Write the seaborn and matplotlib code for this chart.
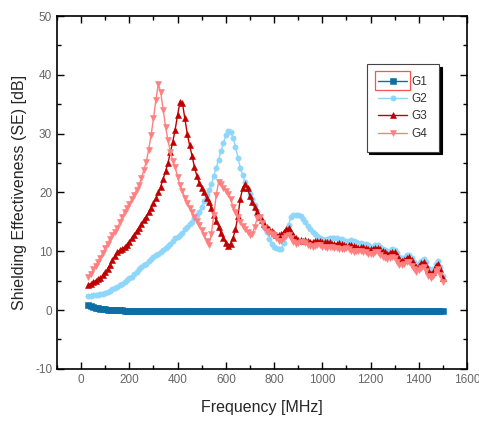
import numpy as np
import pandas as pd
import seaborn as sns
import matplotlib.pyplot as plt
from matplotlib.patches import Rectangle
from matplotlib.ticker import MultipleLocator

# sweep frequencies [MHz], 10 MHz steps from 30 to 1500
freq = list(range(30, 1501, 10))

g1 = [0.8, 0.65, 0.5, 0.4, 0.3, 0.22, 0.15, 0.1, 0.05, 0.02,
      0.0, -0.03, -0.05, -0.07, -0.08, -0.09, -0.1, -0.1, -0.11, -0.1,
      -0.12, -0.12, -0.13, -0.12, -0.14, -0.15, -0.14, -0.15, -0.16, -0.15,
      -0.15, -0.16, -0.15, -0.17, -0.16, -0.15, -0.16, -0.17, -0.16, -0.15,
      -0.16, -0.17, -0.16, -0.15, -0.16, -0.17, -0.16, -0.15, -0.17, -0.16,
      -0.15, -0.16, -0.17, -0.18, -0.16, -0.15, -0.16, -0.17, -0.16, -0.15,
      -0.16, -0.17, -0.16, -0.15, -0.16, -0.17, -0.16, -0.15, -0.16, -0.14,
      -0.16, -0.17, -0.16, -0.15, -0.16, -0.15, -0.16, -0.17, -0.16, -0.15,
      -0.16, -0.14, -0.16, -0.17, -0.16, -0.15, -0.16, -0.17, -0.16, -0.15,
      -0.16, -0.17, -0.16, -0.15, -0.16, -0.17, -0.16, -0.15, -0.16, -0.17,
      -0.16, -0.15, -0.16, -0.17, -0.16, -0.15, -0.16, -0.17, -0.18, -0.16,
      -0.15, -0.16, -0.17, -0.16, -0.15, -0.16, -0.17, -0.16, -0.15, -0.16,
      -0.17, -0.16, -0.15, -0.16, -0.17, -0.16, -0.15, -0.16, -0.17, -0.16,
      -0.15, -0.16, -0.17, -0.16, -0.15, -0.16, -0.17, -0.16, -0.15, -0.16,
      -0.17, -0.16, -0.15, -0.16, -0.17, -0.16, -0.15, -0.16]

g2 = [2.4, 2.4, 2.5, 2.5, 2.6, 2.7, 2.8, 2.9, 3.1, 3.3,
      3.6, 3.8, 4.0, 4.3, 4.5, 4.8, 5.1, 5.4, 5.7, 6.1,
      6.5, 6.9, 7.3, 7.6, 7.9, 8.3, 8.7, 9.0, 9.3, 9.6,
      9.9, 10.2, 10.6, 10.9, 11.3, 11.8, 12.3, 12.5, 12.7, 13.1,
      13.7, 14.2, 14.6, 15.0, 15.6, 16.1, 16.7, 17.6, 18.6, 19.6,
      20.4, 21.4, 22.8, 24.2, 25.6, 27.0, 28.4, 29.7, 30.4, 30.3,
      29.3, 27.8, 25.9, 24.2, 22.9, 21.7, 20.6, 19.7, 18.8, 17.9,
      16.9, 15.9, 15.1, 14.2, 13.2, 12.1, 11.2, 10.8, 10.6, 10.3,
      10.4, 11.4, 12.9, 14.5, 15.8, 16.1, 16.2, 16.2, 16.0, 15.5,
      14.9, 14.3, 13.8, 13.3, 12.9, 12.6, 12.3, 12.0, 11.9, 12.0,
      12.2, 12.3, 12.2, 12.2, 12.1, 12.0, 11.8, 11.7, 11.8, 11.9,
      11.7, 11.5, 11.4, 11.4, 11.3, 11.2, 11.0, 10.8, 10.8, 11.0,
      11.0, 10.7, 10.4, 10.2, 10.0, 10.1, 10.3, 10.2, 9.7, 9.1,
      8.8, 8.9, 9.3, 9.4, 8.9, 8.2, 7.7, 7.9, 8.4, 8.6,
      8.1, 7.2, 6.6, 6.9, 7.9, 8.3, 7.4, 5.8]

g3 = [4.3, 4.5, 4.8, 5.0, 5.2, 5.5, 5.9, 6.4, 7.0, 7.7,
      8.5, 9.2, 9.8, 10.2, 10.4, 10.7, 11.1, 11.6, 12.2, 12.8,
      13.4, 14.0, 14.6, 15.3, 15.9, 16.6, 17.4, 18.2, 19.0, 20.0,
      21.0, 22.3, 23.6, 25.0, 26.8, 28.6, 30.7, 33.2, 35.4, 35.2,
      32.6, 30.0, 28.0, 26.2, 24.3, 22.8, 21.6, 20.8, 20.0, 19.1,
      18.3, 17.3, 16.2, 15.2, 14.2, 13.1, 12.2, 11.4, 10.9, 11.3,
      12.3, 13.7, 16.0, 18.9, 20.8, 21.4, 20.7, 19.4, 18.3, 17.5,
      16.6, 15.9, 15.3, 14.7, 14.2, 13.8, 13.4, 13.1, 12.8, 12.7,
      12.9, 13.3, 13.8, 13.9, 13.3, 12.7, 12.2, 11.9, 11.9, 11.8,
      11.9, 11.8, 11.6, 11.5, 11.7, 11.8, 11.7, 11.5, 11.5, 11.6,
      11.5, 11.3, 11.2, 11.3, 11.4, 11.2, 11.0, 10.9, 11.0, 11.1,
      10.9, 10.7, 10.6, 10.7, 10.7, 10.5, 10.3, 10.3, 10.4, 10.6,
      10.6, 10.3, 10.0, 9.8, 9.6, 9.7, 9.9, 9.8, 9.3, 8.7,
      8.4, 8.5, 8.9, 9.0, 8.5, 7.8, 7.3, 7.5, 8.0, 8.2,
      7.7, 6.8, 6.2, 6.5, 7.5, 7.9, 7.0, 5.5]

g4 = [5.6, 6.2, 6.9, 7.5, 8.2, 8.9, 9.7, 10.5, 11.3, 12.1,
      12.8, 13.3, 13.9, 14.9, 15.8, 16.6, 17.4, 18.1, 18.8, 19.6,
      20.4, 21.3, 22.4, 23.8, 25.2, 27.3, 29.7, 32.6, 35.7, 38.4,
      37.0, 34.1, 31.2, 28.9, 26.9, 25.4, 24.3, 22.6, 21.3, 20.2,
      19.1, 18.2, 17.4, 16.6, 15.9, 15.1, 14.4, 13.6, 12.8, 11.8,
      11.0, 13.0, 16.1, 19.5, 21.8, 21.4, 20.8, 20.3, 19.8, 18.8,
      17.6, 16.7, 15.8, 15.0, 14.3, 13.7, 13.2, 12.8, 13.0, 14.2,
      15.6, 15.8, 14.8, 14.0, 13.4, 13.1, 12.9, 12.7, 12.3, 11.7,
      11.8, 12.2, 12.6, 12.7, 12.2, 11.5, 11.3, 11.4, 11.5, 11.6,
      11.4, 11.1, 10.9, 10.8, 10.9, 11.0, 11.0, 10.8, 10.7, 10.6,
      10.7, 10.8, 10.6, 10.5, 10.4, 10.3, 10.4, 10.5, 10.3, 10.1,
      9.9, 10.0, 10.1, 10.0, 9.9, 9.8, 9.6, 9.5, 9.6, 9.8,
      9.8, 9.4, 9.0, 8.8, 8.7, 8.9, 9.1, 8.8, 8.2, 7.7,
      7.6, 7.9, 8.2, 8.1, 7.5, 6.9, 6.5, 6.8, 7.2, 7.3,
      6.6, 5.8, 5.4, 5.8, 6.7, 6.9, 6.0, 4.8]

series = ['G1', 'G2', 'G3', 'G4']
values = [g1, g2, g3, g4]
colors = ['#0b6fa4', '#8fd6fb', '#c00000', '#ff8080']
markers = ['s', 'o', '^', 'v']

sns.set_style('ticks')
plt.rcParams['font.family'] = ['Liberation Sans', 'DejaVu Sans']
plt.rcParams['axes.unicode_minus'] = False

fig = plt.figure(figsize=(4.79, 4.22), dpi=100)
ax = fig.add_axes([0.119, 0.126, 0.856, 0.836])

for name, vals, c, m in zip(series, values, colors, markers):
    sns.lineplot(x=freq, y=vals, ax=ax, color=c, marker=m, markersize=3.8,
                 markeredgecolor=c, markeredgewidth=0.4, linewidth=1.0,
                 label=name)

ax.set_xticks(range(0, 1601, 200))
ax.set_xlim(-100, 1600)
ax.set_ylim(-10, 50)
ax.xaxis.set_minor_locator(MultipleLocator(100))
ax.yaxis.set_major_locator(MultipleLocator(10))
ax.yaxis.set_minor_locator(MultipleLocator(5))
ax.tick_params(which='both', direction='in', top=True, right=True,
               labelcolor='#666666', labelsize=8.5, width=1.0, color='black')
ax.tick_params(which='major', length=5)
ax.tick_params(which='minor', length=3)
for s in ax.spines.values():
    s.set_linewidth(1.2)
    s.set_color('black')

ax.set_xlabel('Frequency [MHz]', fontsize=11.5, labelpad=10)
ax.set_ylabel('Shielding Effectiveness (SE) [dB]', fontsize=11.5, labelpad=6)

leg = ax.legend(loc='upper right', bbox_to_anchor=(0.932, 0.864),
                frameon=True, fancybox=False, shadow={'color': 'black', 'alpha': 1},
                fontsize=8.5, handlelength=2.4, borderpad=1.0, labelspacing=0.45,
                handletextpad=0.4, borderaxespad=0)
leg.get_frame().set_edgecolor('#444444')
leg.get_frame().set_linewidth(0.8)
for t in leg.get_texts():
    t.set_color('#333333')

# red selection box round the first legend handle
fig.canvas.draw()
bb = leg.get_lines()[0].get_window_extent(fig.canvas.get_renderer())
fig.add_artist(Rectangle((bb.x0 - 1, bb.y0 - 7), bb.width + 2, bb.height + 14,
                         transform=None, fill=False, edgecolor='#ff5050', linewidth=0.9))

fig.savefig('out.png', dpi=100)
